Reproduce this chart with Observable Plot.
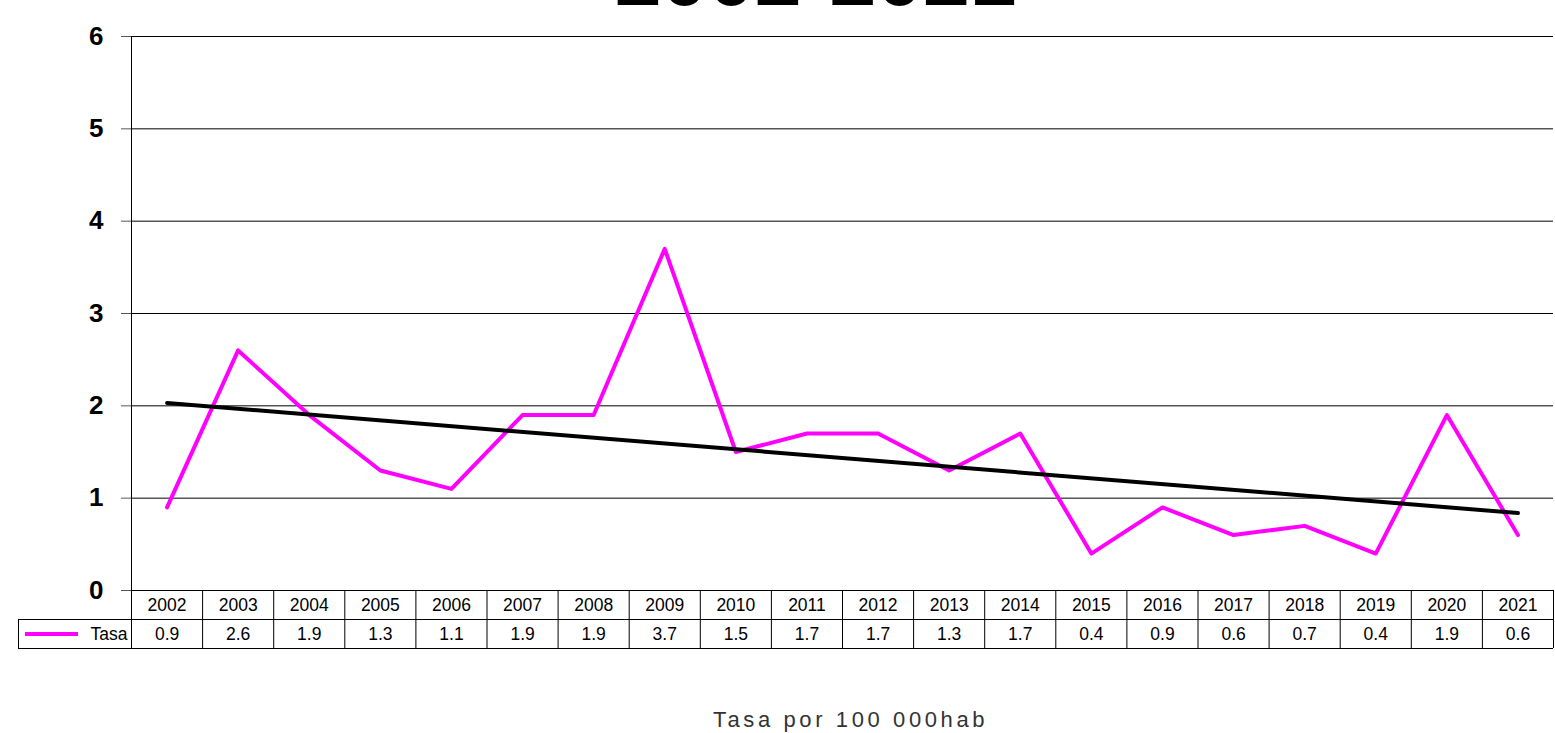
<!DOCTYPE html>
<html>
<head>
<meta charset="utf-8">
<script src="https://cdn.jsdelivr.net/npm/d3@7"></script>
<script src="https://cdn.jsdelivr.net/npm/@observablehq/plot@0.6"></script>
<style>
  html, body { margin: 0; padding: 0; background: #fff; overflow: hidden; }
  #chart svg { display: block; }
</style>
</head>
<body>
<div id="chart"></div>
<script>
const years = [2002, 2003, 2004, 2005, 2006, 2007, 2008, 2009, 2010, 2011, 2012, 2013, 2014, 2015, 2016, 2017, 2018, 2019, 2020, 2021];
const tasa = [0.9, 2.6, 1.9, 1.3, 1.1, 1.9, 1.9, 3.7, 1.5, 1.7, 1.7, 1.3, 1.7, 0.4, 0.9, 0.6, 0.7, 0.4, 1.9, 0.6];
const yTicks = [0, 1, 2, 3, 4, 5, 6];
const seriesName = "Tasa";
const titleText = "2002-2021";
const captionText = "Tasa por 100 000hab";

const data = years.map((year, i) => ({year, value: tasa[i]}));

// layout
const W = 1555, H = 733;
const mLeft = 131, mRight = 2, mTop = 36, mBottom = 143;
const ppu = (H - mBottom - mTop) / 6;            // px per y unit
const colPx = (W - mLeft - mRight) / years.length; // px per year
const row = 29 / ppu;                            // table row height in y units
const x0 = years[0] - 0.5, x1 = years[years.length - 1] + 0.5;
const bounds = d3.range(years.length + 1).map(i => x0 + i);
const leftX = x0 - (mLeft - 18) / colPx;
const font = "'Liberation Sans', Arial, sans-serif";

const chart = Plot.plot({
  width: W,
  height: H,
  marginLeft: mLeft,
  marginRight: mRight,
  marginTop: mTop,
  marginBottom: mBottom,
  style: {fontFamily: font, background: "#fff", color: "#000", overflow: "visible"},
  x: {domain: [x0, x1], axis: null},
  y: {domain: [0, 6], axis: null},
  marks: [
    Plot.gridY(yTicks, {stroke: "#000", strokeOpacity: 1, strokeWidth: 1}),
    Plot.axisY(yTicks, {tickSize: 10, tickPadding: 18, fontSize: 26, fontWeight: "bold", stroke: "#555", fill: "#000", tickFormat: d => String(d), label: null}),
    Plot.ruleX([x0], {y1: -2 * row, y2: 6, stroke: "#000", strokeWidth: 1}),
    // data table
    Plot.ruleY([0], {x1: x0, x2: x1, stroke: "#000", strokeWidth: 1}),
    Plot.ruleY([-row, -2 * row], {x1: leftX, x2: x1, stroke: "#000", strokeWidth: 1}),
    Plot.ruleX(bounds.slice(1), {y1: 0, y2: -2 * row, stroke: "#000", strokeWidth: 1}),
    Plot.ruleX([leftX], {y1: -row, y2: -2 * row, stroke: "#000", strokeWidth: 1}),
    Plot.text(data, {x: "year", y: -row / 2, text: d => String(d.year), fontSize: 17.5, fill: "#000"}),
    Plot.text(data, {x: "year", y: -1.5 * row, text: d => d.value.toFixed(1), fontSize: 17.5, fill: "#000"}),
    Plot.ruleY([-1.5 * row], {x1: leftX + 7 / colPx, x2: leftX + 60 / colPx, stroke: "#FF00FF", strokeWidth: 4}),
    Plot.text([seriesName], {x: x0 - 4 / colPx, y: -1.5 * row, text: d => d, textAnchor: "end", fontSize: 17.5, fill: "#000"}),
    // series
    Plot.lineY(data, {x: "year", y: "value", stroke: "#FF00FF", strokeWidth: 4}),
    Plot.linearRegressionY(data, {x: "year", y: "value", stroke: "#000", strokeWidth: 4, ci: 0}),
    // title (cut off at the top) and caption
    Plot.text([titleText], {frameAnchor: "top", dx: -27, dy: -32, lineAnchor: "bottom", text: d => d, fontSize: 84, fontWeight: "bold", fill: "#000"}),
    Plot.text([captionText], {frameAnchor: "bottom", dx: 8, dy: 129, lineAnchor: "middle", text: d => d, fontSize: 22, fill: "#333"})
  ]
});
d3.select(chart).selectAll("text")
  .filter(function() { return this.textContent === captionText; })
  .attr("letter-spacing", 3.6);
document.getElementById("chart").appendChild(chart);
</script>
</body>
</html>
